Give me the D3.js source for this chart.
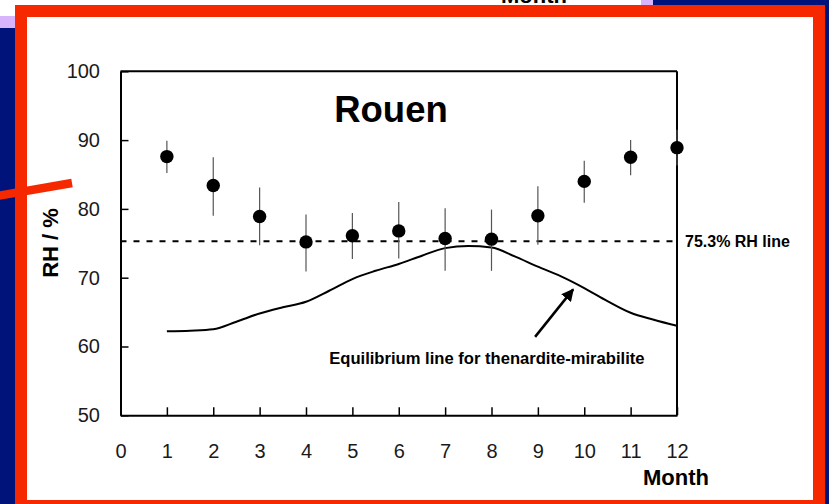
<!DOCTYPE html>
<html>
<head>
<meta charset="utf-8">
<script src="https://cdn.jsdelivr.net/npm/d3@7/dist/d3.min.js"></script>
<style>
  html, body { margin: 0; padding: 0; background: #00137b; }
  svg { display: block; }
  text { font-family: "Liberation Sans", Arial, sans-serif; }
</style>
</head>
<body>
<svg id="chart" width="829" height="504"></svg>
<script>
// ---- data ----
const months = [1, 2, 3, 4, 5, 6, 7, 8, 9, 10, 11, 12];
const rhMean = [87.6, 83.4, 78.9, 75.2, 76.1, 76.8, 75.7, 75.6, 79.0, 84.0, 87.5, 88.9];
const rhHigh = [89.9, 87.5, 83.1, 79.2, 79.4, 81.0, 80.1, 79.9, 83.3, 87.0, 90.0, 91.5];
const rhLow  = [85.2, 79.0, 74.7, 70.9, 72.7, 72.8, 71.0, 71.0, 74.8, 80.9, 84.9, 86.3];
const eqMonths = [1, 1.5, 2, 2.5, 3, 3.5, 4, 4.5, 5, 5.5, 6, 6.5, 7, 7.5, 8, 8.5, 9, 9.5, 10, 10.5, 11, 11.5, 12];
const eqRH     = [62.2, 62.3, 62.5, 63.6, 64.8, 65.7, 66.5, 68.1, 69.8, 71.0, 72.0, 73.2, 74.3, 74.6, 74.4, 73.1, 71.6, 70.2, 68.5, 66.6, 64.9, 63.9, 63.0];
const thresholdRH = 75.3;
const xTicks = [0, 1, 2, 3, 4, 5, 6, 7, 8, 9, 10, 11, 12];
const yTicks = [50, 60, 70, 80, 90, 100];
const titleText = "Rouen";
const thresholdLabel = "75.3% RH line";
const eqLabel = "Equilibrium line for thenardite-mirabilite";
const eqLabelPos = [7.9, 57.4];          // [month, RH]
const arrowFrom = [8.94, 61.4];          // [month, RH]
const arrowTo = [9.76, 68.3];            // [month, RH]
const xTitle = "Month";
const yTitle = "RH / %";

// ---- drawing ----
const svg = d3.select("#chart");
const W = 829, H = 504;

// slide background decorations
svg.append("rect").attr("x", 0).attr("y", 0).attr("width", W).attr("height", H).attr("fill", "#00137b");
svg.append("rect").attr("x", 0).attr("y", 0).attr("width", 653).attr("height", 28).attr("fill", "#d8b4fc");
svg.append("rect").attr("x", 0).attr("y", 0).attr("width", 641).attr("height", 16).attr("fill", "#ffffff");
svg.append("text").attr("x", 534).attr("y", 2.5).attr("text-anchor", "middle")
  .attr("font-size", 22).attr("font-weight", "bold").attr("fill", "#000").text("Month");
svg.append("rect").attr("x", 15).attr("y", 5).attr("width", 810).attr("height", 510).attr("fill", "#f52800");
svg.append("rect").attr("x", 27).attr("y", 17).attr("width", 786).attr("height", 483).attr("fill", "#ffffff");
svg.append("line").attr("x1", -20).attr("y1", 199).attr("x2", 72).attr("y2", 183)
  .attr("stroke", "#f52800").attr("stroke-width", 8.5);

const x = d3.scaleLinear().domain([0, 12]).range([120.5, 677]);
const y = d3.scaleLinear().domain([50, 100]).range([415.3, 71.3]);

const g = svg.append("g");

// top & right frame
g.append("line").attr("x1", x(0)).attr("x2", x(12)).attr("y1", y(100)).attr("y2", y(100))
  .attr("stroke", "#000").attr("stroke-width", 2);
g.append("line").attr("x1", x(12)).attr("x2", x(12)).attr("y1", y(100)).attr("y2", y(50))
  .attr("stroke", "#000").attr("stroke-width", 2);

// threshold dashed line
g.append("line").attr("x1", x(0)).attr("x2", x(12)).attr("y1", y(thresholdRH)).attr("y2", y(thresholdRH))
  .attr("stroke", "#000").attr("stroke-width", 2.2).attr("stroke-dasharray", "6,7");

// equilibrium curve
const eqData = eqMonths.map((m, i) => [m, eqRH[i]]);
g.append("path").datum(eqData)
  .attr("d", d3.line().x(d => x(d[0])).y(d => y(d[1])).curve(d3.curveMonotoneX))
  .attr("fill", "none").attr("stroke", "#000").attr("stroke-width", 2);

// error bars
const pts = months.map((m, i) => ({ m, v: rhMean[i], hi: rhHigh[i], lo: rhLow[i] }));
g.selectAll(".err").data(pts).enter().append("line")
  .attr("x1", d => x(d.m)).attr("x2", d => x(d.m))
  .attr("y1", d => y(d.hi)).attr("y2", d => y(d.lo))
  .attr("stroke", "#555").attr("stroke-width", 1.2);

// axes
const yAxis = d3.axisLeft(y).tickValues(yTicks).tickSizeInner(-8).tickSizeOuter(0).tickPadding(20.5);
const xAxis = d3.axisBottom(x).tickValues(xTicks).tickSizeInner(-8).tickSizeOuter(0).tickPadding(28.5);
const ya = g.append("g").attr("transform", `translate(${x(0)},0)`).call(yAxis);
const xa = g.append("g").attr("transform", `translate(0,${y(50)})`).call(xAxis);
[ya, xa].forEach(a => {
  a.select(".domain").attr("stroke", "#000").attr("stroke-width", 2);
  a.selectAll(".tick line").attr("stroke", "#000").attr("stroke-width", 1.5);
  a.selectAll(".tick text").attr("font-size", 20).attr("fill", "#1a1a1a")
    .attr("font-family", "'Liberation Sans', Arial, sans-serif");
});

// markers
g.selectAll(".pt").data(pts).enter().append("circle")
  .attr("cx", d => x(d.m)).attr("cy", d => y(d.v)).attr("r", 6.7).attr("fill", "#000");

// title
g.append("text").attr("x", 391).attr("y", 122).attr("text-anchor", "middle")
  .attr("font-size", 36.5).attr("font-weight", "bold").attr("fill", "#000").text(titleText);

// threshold label
g.append("text").attr("x", 685).attr("y", y(thresholdRH) + 5.5)
  .attr("font-size", 16).attr("font-weight", "bold").attr("fill", "#000").text(thresholdLabel);

// equilibrium label and arrow
g.append("text").attr("x", x(eqLabelPos[0])).attr("y", y(eqLabelPos[1])).attr("text-anchor", "middle")
  .attr("font-size", 16.6).attr("font-weight", "bold").attr("fill", "#000").text(eqLabel);

svg.append("defs").append("marker").attr("id", "ah").attr("viewBox", "0 0 10 10")
  .attr("refX", 9).attr("refY", 5).attr("markerWidth", 5).attr("markerHeight", 5)
  .attr("orient", "auto").attr("markerUnits", "strokeWidth")
  .append("path").attr("d", "M0,0 L10,5 L0,10 Z").attr("fill", "#000");
g.append("line").attr("x1", x(arrowFrom[0])).attr("y1", y(arrowFrom[1]))
  .attr("x2", x(arrowTo[0])).attr("y2", y(arrowTo[1]))
  .attr("stroke", "#000").attr("stroke-width", 2.5).attr("marker-end", "url(#ah)");

// axis titles
g.append("text").attr("transform", `translate(58,243) rotate(-90)`).attr("text-anchor", "middle")
  .attr("font-size", 22).attr("font-weight", "bold").attr("fill", "#000").text(yTitle);
g.append("text").attr("x", 676).attr("y", 485).attr("text-anchor", "middle")
  .attr("font-size", 22).attr("font-weight", "bold").attr("fill", "#000").text(xTitle);
</script>
</body>
</html>
